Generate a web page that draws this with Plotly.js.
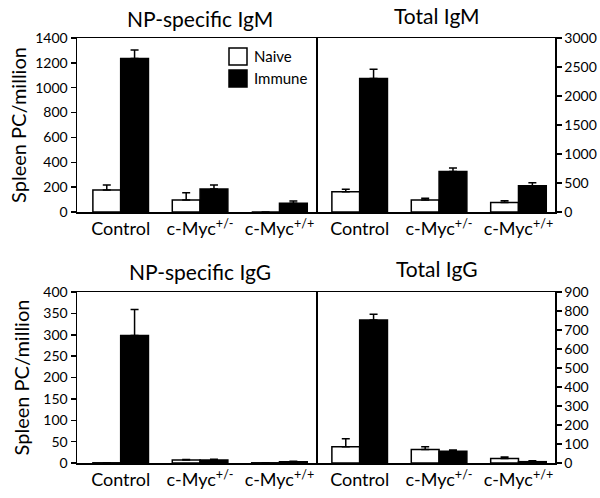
<!DOCTYPE html>
<html>
<head>
<meta charset="utf-8">
<script src="https://cdn.plot.ly/plotly-3.0.1.min.js"></script>
<style>
  html, body { margin: 0; padding: 0; background: #fff; }
  #chart { width: 600px; height: 498px; }
</style>
</head>
<body>
<div id="chart"></div>
<script>
var groups = ['Control', 'c-Myc<sup>+/-</sup>', 'c-Myc<sup>+/+</sup>'];
var seriesNames = ['Naive', 'Immune'];

// NP-specific IgM
var npIgmNaive = [177, 97, 0];
var npIgmNaiveErr = [40, 58, 0];
var npIgmImmune = [1236, 185, 70];
var npIgmImmuneErr = [67, 32, 18];

// Total IgM
var totIgmNaive = [347, 208, 162];
var totIgmNaiveErr = [45, 30, 30];
var totIgmImmune = [2300, 699, 451];
var totIgmImmuneErr = [160, 58, 52];

// NP-specific IgG
var npIggNaive = [0.5, 7, 0.5];
var npIggNaiveErr = [0, 1, 0];
var npIggImmune = [298, 7, 3];
var npIggImmuneErr = [61, 2, 1];

// Total IgG
var totIggNaive = [85, 71, 24];
var totIggNaiveErr = [43, 14, 8];
var totIggImmune = [753, 62, 7];
var totIggImmuneErr = [30, 6, 5];

var FONT = 'Lato, "Open Sans", sans-serif';

function barTrace(y, err, name, fill, xa, ya) {
  return {
    type: 'bar', x: groups, y: y, name: name,
    xaxis: xa, yaxis: ya, showlegend: false,
    marker: {color: fill, line: {color: '#000', width: 1.5}},
    error_y: {type: 'data', symmetric: false, array: err,
              arrayminus: [0, 0, 0], color: '#000', thickness: 1.5, width: 4},
    hoverinfo: 'skip'
  };
}

var traces = [
  barTrace(npIgmNaive, npIgmNaiveErr, seriesNames[0], '#fff', 'x', 'y'),
  barTrace(npIgmImmune, npIgmImmuneErr, seriesNames[1], '#000', 'x', 'y'),
  barTrace(totIgmNaive, totIgmNaiveErr, seriesNames[0], '#fff', 'x2', 'y2'),
  barTrace(totIgmImmune, totIgmImmuneErr, seriesNames[1], '#000', 'x2', 'y2'),
  barTrace(npIggNaive, npIggNaiveErr, seriesNames[0], '#fff', 'x3', 'y3'),
  barTrace(npIggImmune, npIggImmuneErr, seriesNames[1], '#000', 'x3', 'y3'),
  barTrace(totIggNaive, totIggNaiveErr, seriesNames[0], '#fff', 'x4', 'y4'),
  barTrace(totIggImmune, totIggImmuneErr, seriesNames[1], '#000', 'x4', 'y4')
];

var W = 600, H = 498;
var leftDom = [77 / W, 316 / W], rightDom = [316 / W, 555 / W];
var topDom = [(H - 212) / H, (H - 38) / H], botDom = [(H - 463) / H, (H - 292) / H];

function xax(dom, anchor) {
  return {
    domain: dom, anchor: anchor, type: 'category', range: [-0.55, 2.46],
    showline: true, mirror: true, linecolor: '#000', linewidth: 1.5,
    ticks: '', showgrid: false, zeroline: false, fixedrange: true,
    tickfont: {family: FONT, size: 18, color: '#000'}, ticklabelstandoff: 0
  };
}
function yax(dom, anchor, side, max, dtick, title, standoff) {
  var a = {
    domain: dom, anchor: anchor, side: side, range: [0, max], dtick: dtick,
    showline: true, mirror: side === 'left', linecolor: '#000', linewidth: 1.5,
    ticks: 'outside', ticklen: 5, tickwidth: 1.5, tickcolor: '#000',
    showgrid: false, zeroline: false, fixedrange: true,
    tickfont: {family: FONT, size: 14, color: '#000'}
  };
  if (title) a.title = {text: title, font: {family: FONT, size: 20, color: '#000'}, standoff: standoff};
  return a;
}

// hand-drawn legend swatches (paper px), like the figure's boxed key
var key = [{y0: 48, fill: '#fff'}, {y0: 70, fill: '#000'}];

var layout = {
  width: W, height: H,
  margin: {l: 0, r: 0, t: 0, b: 0},
  paper_bgcolor: '#fff', plot_bgcolor: '#fff',
  barmode: 'group', bargap: 0.3, bargroupgap: 0,
  font: {family: FONT, color: '#000'},
  showlegend: false,
  xaxis: xax(leftDom, 'y'),
  yaxis: yax(topDom, 'x', 'left', 1400, 200, 'Spleen PC/million', 3),
  xaxis2: xax(rightDom, 'y2'),
  yaxis2: yax(topDom, 'x2', 'right', 3000, 500),
  xaxis3: xax(leftDom, 'y3'),
  yaxis3: yax(botDom, 'x3', 'left', 400, 50, 'Spleen PC/million', 8),
  xaxis4: xax(rightDom, 'y4'),
  yaxis4: yax(botDom, 'x4', 'right', 900, 100),
  shapes: key.map(function (k) {
    return {type: 'rect', xref: 'paper', yref: 'paper',
            x0: 229 / W, x1: 247 / W, y0: (H - k.y0) / H, y1: (H - k.y0 - 17) / H,
            fillcolor: k.fill, line: {color: '#000', width: 1.5}};
  }),
  annotations: [
    {text: 'NP-specific IgM', x: 200 / W, y: (H - 18) / H},
    {text: 'Total IgM', x: 437 / W, y: (H - 16) / H},
    {text: 'NP-specific IgG', x: 200 / W, y: (H - 271) / H},
    {text: 'Total IgG', x: 437 / W, y: (H - 268) / H}
  ].map(function (a) {
    a.xanchor = 'center';
    a.font = {family: FONT, size: 21, color: '#000'};
    return a;
  }).concat(seriesNames.map(function (n, i) {
    return {text: n, x: 252 / W, y: (H - key[i].y0 - 8.5) / H, xanchor: 'left',
            font: {family: FONT, size: 15, color: '#000'}};
  })).map(function (a) {
    a.xref = 'paper'; a.yref = 'paper'; a.showarrow = false; a.yanchor = 'middle';
    return a;
  })
};

Plotly.newPlot('chart', traces, layout, {displayModeBar: false, staticPlot: true});
</script>
</body>
</html>
